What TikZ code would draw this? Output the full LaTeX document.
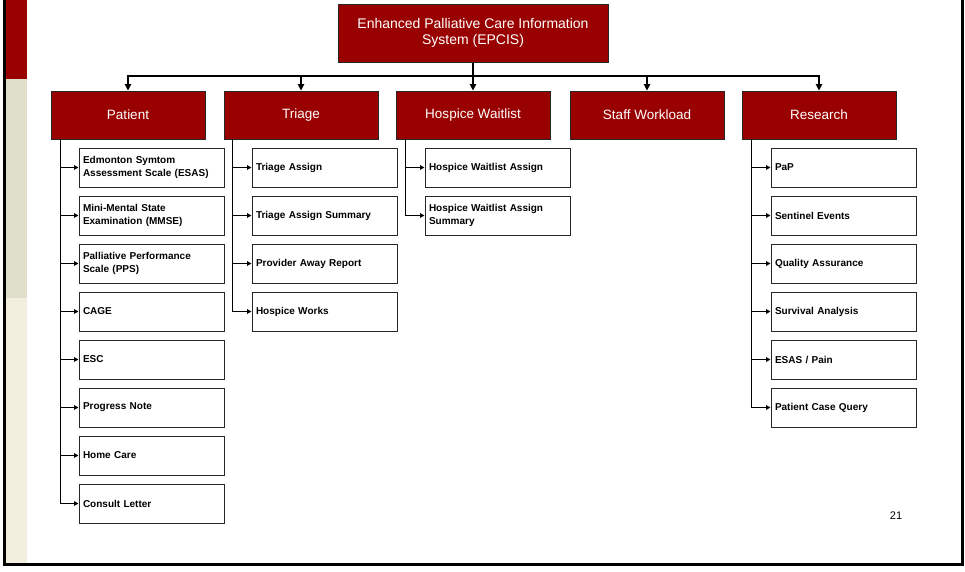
\documentclass[tikz,border=0pt]{standalone}
\usepackage{fontspec}
\setmainfont{Liberation Sans}
\usetikzlibrary{arrows.meta}
\definecolor{epred}{HTML}{990000}
\definecolor{stripbeige}{HTML}{E0DFC9}
\definecolor{stripcream}{HTML}{F3EFDF}
\tikzset{
  topbox/.style={draw=black!85, line width=1pt, fill=epred, text=white, minimum width=270pt, minimum height=58pt, align=center, font=\fontsize{14}{16}\selectfont, inner sep=0pt},
  catbox/.style={draw=black!85, line width=1pt, fill=epred, text=white, minimum width=154pt, minimum height=48pt, font=\fontsize{13.5}{16}\selectfont, inner sep=0pt},
  itembox/.style={draw=black!85, line width=1pt, fill=white, minimum width=145pt, minimum height=39pt, text width=137pt, align=left, inner sep=4pt, font=\bfseries\fontsize{10}{13}\selectfont},
  busline/.style={line width=1.1pt, -{Triangle[length=6.5pt,width=6.5pt]}},
  itemline/.style={line width=1.1pt, -{Triangle[length=4.5pt,width=4.5pt]}},
}
\begin{document}
\begin{tikzpicture}[x=1pt,y=-1pt]
\useasboundingbox (0,0) rectangle (965,571);
% left decorative strip
\fill[epred] (6,0) rectangle (27,79);
\fill[stripbeige] (6,79) rectangle (27,298);
\fill[stripcream] (6,298) rectangle (27,563);
% frame
\draw[line width=3pt] (4.5,0) -- (4.5,564.5) -- (962,564.5) -- (962,0);

% top node
\node[topbox] (top) at (473,33) {Enhanced Palliative Care Information\\System (EPCIS)};

% categories
\node[catbox] (P) at (128,115) {Patient};
\node[catbox] (T) at (301,115) {Triage};
\node[catbox] (H) at (473,115) {Hospice Waitlist};
\node[catbox] (S) at (647,115) {Staff Workload};
\node[catbox] (R) at (819,115) {Research};

\coordinate (bus) at (473,76);
\draw[line width=1.1pt] (top.south) -- (bus);
\foreach \n in {P,T,H,S,R}{
  \draw[busline] (bus) -| (\n.north);
}

% Patient items
\node[itembox] (p1) at (151.5,167.5) {Edmonton Symtom\\Assessment Scale (ESAS)};
\node[itembox] (p2) at (151.5,215.5) {Mini-Mental State\\Examination (MMSE)};
\node[itembox] (p3) at (151.5,263.5) {Palliative Performance\\Scale (PPS)};
\node[itembox] (p4) at (151.5,311.5) {CAGE};
\node[itembox] (p5) at (151.5,359.5) {ESC};
\node[itembox] (p6) at (151.5,407.5) {Progress Note};
\node[itembox] (p7) at (151.5,455.5) {Home Care};
\node[itembox] (p8) at (151.5,503.5) {Consult Letter};
\draw[line width=1.6pt] ([xshift=10pt]P.south west) -- ([xshift=10pt]P.south west |- p8.west);
\foreach \c in {p1,p2,p3,p4,p5,p6,p7,p8}{
  \draw[itemline] ([xshift=10pt]P.south west |- \c.west) -- (\c.west);
}

% Triage items
\node[itembox] (t1) at (324.5,167.5) {Triage Assign};
\node[itembox] (t2) at (324.5,215.5) {Triage Assign Summary};
\node[itembox] (t3) at (324.5,263.5) {Provider Away Report};
\node[itembox] (t4) at (324.5,311.5) {Hospice Works};
\foreach \c in {t1,t2,t3,t4}{
  \draw[itemline] ([xshift=9pt]T.south west) |- (\c.west);
}

% Hospice items
\node[itembox] (h1) at (497.5,167.5) {Hospice Waitlist Assign};
\node[itembox] (h2) at (497.5,215.5) {Hospice Waitlist Assign\\Summary};
\foreach \c in {h1,h2}{
  \draw[itemline] ([xshift=10pt]H.south west) |- (\c.west);
}

% Research items
\node[itembox] (r1) at (843.5,167.5) {PaP};
\node[itembox] (r2) at (843.5,215.5) {Sentinel Events};
\node[itembox] (r3) at (843.5,263.5) {Quality Assurance};
\node[itembox] (r4) at (843.5,311.5) {Survival Analysis};
\node[itembox] (r5) at (843.5,359.5) {ESAS / Pain};
\node[itembox] (r6) at (843.5,407.5) {Patient Case Query};
\draw[line width=1.6pt] ([xshift=10pt]R.south west) -- ([xshift=10pt]R.south west |- r6.west);
\foreach \c in {r1,r2,r3,r4,r5,r6}{
  \draw[itemline] ([xshift=10pt]R.south west |- \c.west) -- (\c.west);
}

% page number
\node[font=\fontsize{11}{13}\selectfont] (pg) at (896,516) {21};
\end{tikzpicture}
\end{document}
